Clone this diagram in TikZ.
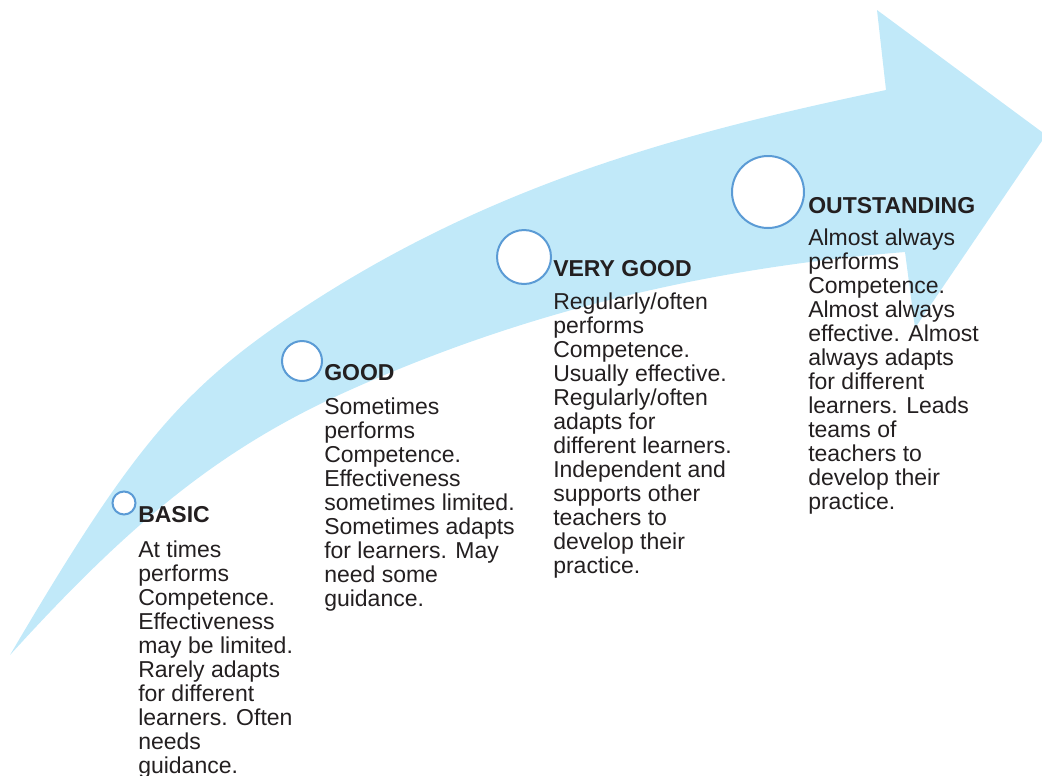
\documentclass[tikz,border=0pt]{standalone}
\usepackage{fontspec}
\setmainfont{Liberation Sans}
\definecolor{arrowblue}{HTML}{C1E9F9}
\definecolor{ringblue}{HTML}{5B9BD5}
\definecolor{ink}{HTML}{231F20}
\begin{document}
\begin{tikzpicture}[x=0.75pt,y=-0.75pt,
  ring/.style={circle, draw=ringblue, line width=1.5pt, fill=white, inner sep=0pt, minimum size=#1},
  head/.style={anchor=base west, inner sep=0pt, text=ink, font=\fontsize{17.25}{18}\selectfont\bfseries},
  body/.style={anchor=base west, inner sep=0pt, text=ink, font=\fontsize{17.25}{18}\selectfont}]
\useasboundingbox (0,0) rectangle (1042,775);
\begin{scope}
\clip (0,0) rectangle (1042,775);
\fill[arrowblue] (10,655) .. controls (130,451) and (180,389) .. (300,310)
  .. controls (495,181) and (691,131) .. (886,90)
  -- (877,10) -- (1046,135) -- (915,328) -- (905,252)
  .. controls (720,267) and (535,307) .. (350,390)
  .. controls (220,448) and (130,523) .. (10,655) -- cycle;
\end{scope}
% circles
\node[ring=17.25pt] (c1) at (124,503) {};
\node[ring=30pt] (c2) at (302,361) {};
\node[ring=40.5pt] (c3) at (524,257) {};
\node[ring=54pt] (c4) at (768,192) {};
% headings
\node[head] (h1) at (138,522) {BASIC};
\node[head] (h2) at (324,380) {GOOD};
\node[head] (h3) at (553,276) {VERY GOOD};
\node[head] (h4) at (808,213) {OUTSTANDING};
% bodies
\node[body] (b1) at (138,557) {\begin{tabular}[t]{@{}l@{}}At times\\performs\\Competence.\\Effectiveness\\may be limited.\\Rarely adapts\\for different\\learners. Often\\needs\\guidance.\end{tabular}};
\node[body] (b2) at (324,414) {\begin{tabular}[t]{@{}l@{}}Sometimes\\performs\\Competence.\\Effectiveness\\sometimes limited.\\Sometimes adapts\\for learners. May\\need some\\guidance.\end{tabular}};
\node[body] (b3) at (553,309) {\begin{tabular}[t]{@{}l@{}}Regularly/often\\performs\\Competence.\\Usually effective.\\Regularly/often\\adapts for\\different learners.\\Independent and\\supports other\\teachers to\\develop their\\practice.\end{tabular}};
\node[body] (b4) at (808,245) {\begin{tabular}[t]{@{}l@{}}Almost always\\performs\\Competence.\\Almost always\\effective. Almost\\always adapts\\for different\\learners. Leads\\teams of\\teachers to\\develop their\\practice.\end{tabular}};
\end{tikzpicture}
\end{document}
